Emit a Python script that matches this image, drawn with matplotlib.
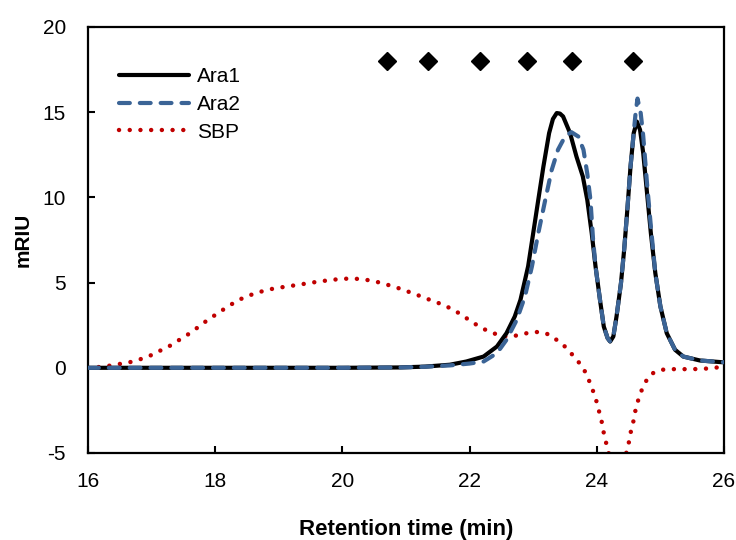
import matplotlib
matplotlib.use("Agg")
import matplotlib.pyplot as plt

plt.rcParams['font.family'] = ['Liberation Sans', 'DejaVu Sans']
plt.rcParams['axes.unicode_minus'] = False

# Ara1 (black solid)
ara1_x = [16.0, 17.0, 18.0, 19.0, 20.0, 20.9, 21.3, 21.69, 21.95, 22.22, 22.43, 22.58, 22.71, 22.8,
          22.92, 23.0, 23.08, 23.16, 23.25, 23.31, 23.37, 23.42, 23.47, 23.58, 23.68, 23.78, 23.85,
          23.92, 23.98, 24.05, 24.11, 24.17, 24.21, 24.26, 24.31, 24.38, 24.43, 24.48, 24.53, 24.58,
          24.63, 24.68, 24.73, 24.79, 24.85, 24.92, 25.0, 25.1, 25.23, 25.36, 25.62, 25.96, 26.0]
ara1_y = [0.0, 0.0, 0.0, 0.0, 0.0, 0.02, 0.07, 0.18, 0.37, 0.66, 1.25, 2.03, 3.01, 3.99,
          5.95, 7.9, 9.86, 11.8, 13.77, 14.6, 14.95, 14.92, 14.75, 13.77, 12.4, 11.23, 9.86,
          7.9, 5.95, 3.99, 2.42, 1.74, 1.54, 1.84, 3.01, 4.97, 6.92, 9.27, 11.8, 13.77,
          14.45, 13.97, 12.6, 10.25, 7.9, 5.56, 3.6, 2.03, 1.06, 0.66, 0.43, 0.33, 0.33]

# Ara2 (blue dashed)
ara2_x = [16.0, 17.0, 18.0, 19.0, 20.0, 20.9, 21.3, 21.69, 22.0, 22.22, 22.43, 22.58, 22.74, 22.87,
          22.98, 23.08, 23.19, 23.29, 23.39, 23.5, 23.6, 23.71, 23.79, 23.85, 23.9, 23.94, 23.98,
          24.05, 24.11, 24.17, 24.21, 24.26, 24.31, 24.38, 24.43, 24.48, 24.53, 24.58, 24.61, 24.64,
          24.69, 24.73, 24.79, 24.85, 24.92, 25.0, 25.1, 25.23, 25.36, 25.62, 25.96, 26.0]
ara2_y = [0.0, 0.0, 0.0, 0.0, 0.0, 0.02, 0.06, 0.14, 0.25, 0.37, 0.86, 1.64, 2.8, 4.18,
          5.95, 7.9, 9.86, 11.6, 12.8, 13.57, 13.83, 13.57, 12.8, 11.4, 9.86, 7.6, 5.95,
          3.99, 2.42, 1.74, 1.54, 1.84, 3.01, 4.97, 6.92, 9.27, 11.8, 13.77, 14.95, 15.8,
          14.95, 13.6, 10.8, 8.3, 5.56, 3.6, 2.03, 1.06, 0.66, 0.43, 0.33, 0.33]

# SBP (red dotted)
sbp_x = [16.0, 16.16, 16.33, 16.49, 16.66, 16.82, 16.97, 17.12, 17.27, 17.41, 17.55, 17.69, 17.82,
         17.96, 18.1, 18.23, 18.38, 18.53, 18.69, 18.85, 19.0, 19.18, 19.34, 19.5, 19.67, 19.83,
         20.0, 20.15, 20.31, 20.48, 20.64, 20.8, 20.96, 21.11, 21.27, 21.43, 21.59, 21.73, 21.87,
         22.0, 22.14, 22.3, 22.46, 22.61, 22.78, 22.94, 23.11, 23.26, 23.4, 23.53, 23.63, 23.74,
         23.83, 23.89, 23.95, 24.0, 24.04, 24.08, 24.11, 24.15, 24.19, 24.25, 24.32, 24.4, 24.46,
         24.5, 24.53, 24.57, 24.6, 24.64, 24.69, 24.76, 24.85, 25.0, 25.17, 25.34, 25.5, 25.66,
         25.83, 25.98, 26.0]
sbp_y = [0.0, 0.04, 0.12, 0.22, 0.33, 0.5, 0.7, 0.98, 1.25, 1.58, 1.9, 2.27, 2.64,
         3.0, 3.35, 3.67, 4.0, 4.24, 4.44, 4.6, 4.7, 4.8, 4.89, 4.99, 5.08, 5.16,
         5.22, 5.24, 5.2, 5.1, 4.95, 4.77, 4.58, 4.36, 4.15, 3.9, 3.7, 3.42, 3.13,
         2.78, 2.45, 2.13, 1.92, 1.82, 1.92, 2.07, 2.11, 1.94, 1.55, 1.15, 0.7, 0.22,
         -0.31, -0.86, -1.45, -2.03, -2.62, -3.21, -3.83, -4.46, -5.05, -6.2, -6.8, -6.2, -5.05,
         -4.46, -3.83, -3.25, -2.62, -2.03, -1.45, -0.86, -0.37, -0.12, -0.08, -0.08, -0.08, -0.06,
         -0.02, 0.08, 0.08]

# diamond markers
marker_x = [20.70, 21.35, 22.17, 22.90, 23.61, 24.57]
marker_y = [18, 18, 18, 18, 18, 18]

x_ticks = [16, 18, 20, 22, 24, 26]
y_ticks = [-5, 0, 5, 10, 15, 20]

fig = plt.figure(figsize=(7.36, 5.40), dpi=100)
ax = fig.add_axes([88/736, 87/540, (724-88)/736, (453-27)/540])

ax.plot(sbp_x, sbp_y, color='#c00000', lw=3.2, linestyle=(0, (0.01, 2.4)),
        dash_capstyle='round', label='SBP', zorder=2)
ax.plot(ara1_x, ara1_y, color='black', lw=3.0, solid_capstyle='round',
        solid_joinstyle='round', label='Ara1', zorder=3)
ax.plot(ara2_x, ara2_y, color='#3b6496', lw=3.0, linestyle=(0, (2.6, 2.4)),
        dash_capstyle='round', dash_joinstyle='round', label='Ara2', zorder=4)
ax.plot(marker_x, marker_y, linestyle='none', marker='D', ms=9, color='black', zorder=5)

ax.set_xlim(16, 26)
ax.set_ylim(-5, 20)
ax.set_xticks(x_ticks)
ax.set_yticks(y_ticks)
ax.tick_params(direction='in', length=5, width=1.5, labelsize=15)
ax.tick_params(axis='x', pad=14)
ax.tick_params(axis='y', pad=16)
for s in ax.spines.values():
    s.set_linewidth(1.6)

ax.set_xlabel('Retention time (min)', fontsize=16, fontweight='bold', labelpad=20)
ax.set_ylabel('mRIU', fontsize=15, fontweight='bold', labelpad=7)

h, l = ax.get_legend_handles_labels()
order = [1, 2, 0]
ax.legend([h[i] for i in order], [l[i] for i in order], loc='upper left',
          bbox_to_anchor=(0.035, 0.925), frameon=False, fontsize=15,
          handlelength=3.4, handletextpad=0.35, labelspacing=0.42, borderaxespad=0)

fig.savefig('out.png', dpi=100)
